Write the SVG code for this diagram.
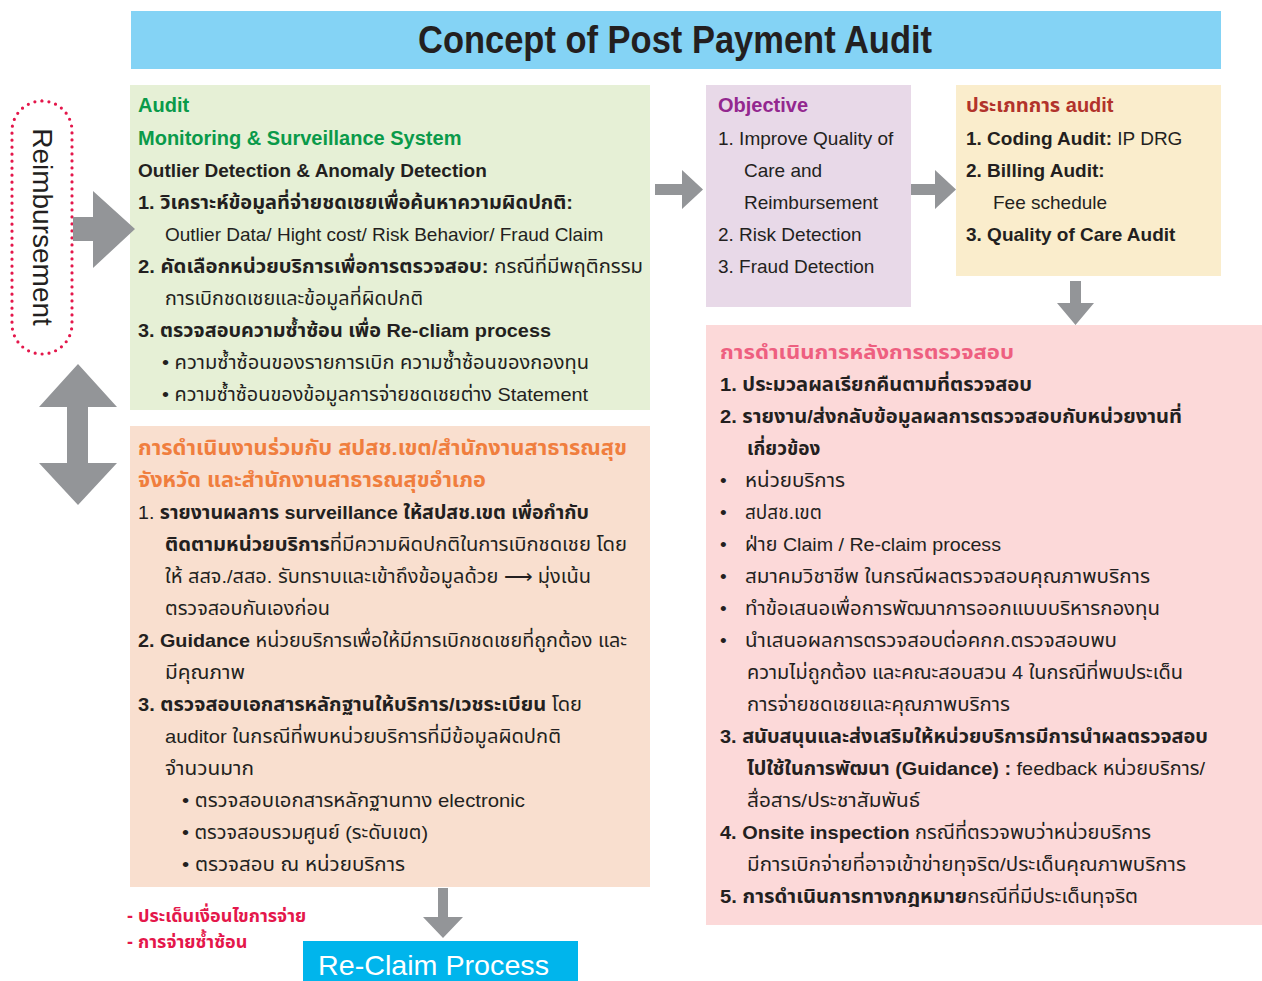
<svg xmlns="http://www.w3.org/2000/svg" width="1262" height="981" viewBox="0 0 1262 981">
<style>
text{font-family:"Liberation Sans","Noto Sans Thai","Noto Sans",sans-serif;font-size:19px;fill:#231f20}
.b{font-weight:bold}
.h{font-size:20px;font-weight:bold}
.arrow{fill:#939598}
</style>
<rect width="1262" height="981" fill="#ffffff"/>
<g id="title">
<rect x="131" y="11" width="1090" height="58" fill="#84d3f5"/>
<text x="418" y="53" textLength="514" lengthAdjust="spacingAndGlyphs" style="font-size:38px;font-weight:bold">Concept of Post Payment Audit</text>
</g>
<g id="reimbursement">
<rect x="12" y="101" width="60" height="253" rx="30" ry="30" fill="none" stroke="#e4174b" stroke-width="3.2" stroke-linecap="round" stroke-dasharray="0 7"/>
<text transform="translate(33,227) rotate(90)" text-anchor="middle" style="font-size:28px">Reimbursement</text>
</g>
<g id="audit">
<rect x="130" y="85" width="520" height="325" fill="#e6f0d6"/>
<text x="138" y="112" class="h" style="fill:#0a9a4a">Audit</text>
<text x="138" y="145" class="h" style="fill:#0a9a4a">Monitoring &amp; Surveillance System</text>
<text x="138" y="177" class="b">Outlier Detection &amp; Anomaly Detection</text>
<text x="138" y="209" class="b" textLength="435" lengthAdjust="spacingAndGlyphs">1. วิเคราะห์ข้อมูลที่จ่ายชดเชยเพื่อค้นหาความผิดปกติ:</text>
<text x="165" y="241">Outlier Data/ Hight cost/ Risk Behavior/ Fraud Claim</text>
<text x="138" y="273" textLength="505" lengthAdjust="spacingAndGlyphs"><tspan class="b">2. คัดเลือกหน่วยบริการเพื่อการตรวจสอบ:</tspan> กรณีที่มีพฤติกรรม</text>
<text x="165" y="305" textLength="258" lengthAdjust="spacingAndGlyphs">การเบิกชดเชยและข้อมูลที่ผิดปกติ</text>
<text x="138" y="337" class="b" textLength="413" lengthAdjust="spacingAndGlyphs">3. ตรวจสอบความซ้ำซ้อน เพื่อ Re-cliam process</text>
<text x="162" y="369" textLength="427" lengthAdjust="spacingAndGlyphs">• ความซ้ำซ้อนของรายการเบิก ความซ้ำซ้อนของกองทุน</text>
<text x="162" y="401" textLength="426" lengthAdjust="spacingAndGlyphs">• ความซ้ำซ้อนของข้อมูลการจ่ายชดเชยต่าง Statement</text>
</g>
<g id="cooperation">
<rect x="130" y="426" width="520" height="461" fill="#f9dfcf"/>
<text x="138" y="455" class="b" textLength="489" lengthAdjust="spacingAndGlyphs" style="font-size:21px;fill:#f07e3e">การดำเนินงานร่วมกับ สปสช.เขต/สำนักงานสาธารณสุข</text>
<text x="138" y="487" class="b" textLength="348" lengthAdjust="spacingAndGlyphs" style="font-size:21px;fill:#f07e3e">จังหวัด และสำนักงานสาธารณสุขอำเภอ</text>
<text x="138" y="519" textLength="451" lengthAdjust="spacingAndGlyphs">1. <tspan class="b">รายงานผลการ surveillance ให้สปสช.เขต เพื่อกำกับ</tspan></text>
<text x="165" y="551" textLength="462" lengthAdjust="spacingAndGlyphs"><tspan class="b">ติดตามหน่วยบริการ</tspan>ที่มีความผิดปกติในการเบิกชดเชย โดย</text>
<text x="165" y="583" textLength="426" lengthAdjust="spacingAndGlyphs">ให้ สสจ./สสอ. รับทราบและเข้าถึงข้อมูลด้วย ⟶ มุ่งเน้น</text>
<text x="165" y="615" textLength="165" lengthAdjust="spacingAndGlyphs">ตรวจสอบกันเองก่อน</text>
<text x="138" y="647" textLength="489" lengthAdjust="spacingAndGlyphs"><tspan class="b">2. Guidance</tspan> หน่วยบริการเพื่อให้มีการเบิกชดเชยที่ถูกต้อง และ</text>
<text x="165" y="679" textLength="80" lengthAdjust="spacingAndGlyphs">มีคุณภาพ</text>
<text x="138" y="711" textLength="444" lengthAdjust="spacingAndGlyphs"><tspan class="b">3. ตรวจสอบเอกสารหลักฐานให้บริการ/เวชระเบียน</tspan> โดย</text>
<text x="165" y="743" textLength="396" lengthAdjust="spacingAndGlyphs">auditor ในกรณีที่พบหน่วยบริการที่มีข้อมูลผิดปกติ</text>
<text x="165" y="775" textLength="89" lengthAdjust="spacingAndGlyphs">จำนวนมาก</text>
<text x="182" y="807" textLength="343" lengthAdjust="spacingAndGlyphs">• ตรวจสอบเอกสารหลักฐานทาง electronic</text>
<text x="182" y="839" textLength="246" lengthAdjust="spacingAndGlyphs">• ตรวจสอบรวมศูนย์ (ระดับเขต)</text>
<text x="182" y="871" textLength="223" lengthAdjust="spacingAndGlyphs">• ตรวจสอบ ณ หน่วยบริการ</text>
</g>
<g id="objective">
<rect x="706" y="85" width="205" height="222" fill="#e8d9e8"/>
<text x="718" y="112" class="h" style="fill:#93278f">Objective</text>
<text x="718" y="145">1. Improve Quality of</text>
<text x="744" y="177">Care and</text>
<text x="744" y="209">Reimbursement</text>
<text x="718" y="241">2. Risk Detection</text>
<text x="718" y="273">3. Fraud Detection</text>
</g>
<g id="audit-types">
<rect x="956" y="85" width="265" height="191" fill="#faedcc"/>
<text x="966" y="112" class="h" style="fill:#b2332b">ประเภทการ audit</text>
<text x="966" y="145"><tspan class="b">1. Coding Audit:</tspan> IP DRG</text>
<text x="966" y="177" class="b">2. Billing Audit:</text>
<text x="993" y="209">Fee schedule</text>
<text x="966" y="241" class="b">3. Quality of Care Audit</text>
</g>
<g id="post-audit">
<rect x="706" y="325" width="556" height="600" fill="#fcd9d9"/>
<text x="720" y="359" class="b" textLength="294" lengthAdjust="spacingAndGlyphs" style="font-size:20px;fill:#ee5f80">การดำเนินการหลังการตรวจสอบ</text>
<text x="720" y="391" class="b" textLength="312" lengthAdjust="spacingAndGlyphs">1. ประมวลผลเรียกคืนตามที่ตรวจสอบ</text>
<text x="720" y="423" class="b" textLength="462" lengthAdjust="spacingAndGlyphs">2. รายงาน/ส่งกลับข้อมูลผลการตรวจสอบกับหน่วยงานที่</text>
<text x="747" y="455" class="b">เกี่ยวข้อง</text>
<text x="720" y="487">•</text><text x="745" y="487" textLength="100" lengthAdjust="spacingAndGlyphs">หน่วยบริการ</text>
<text x="720" y="519">•</text><text x="745" y="519">สปสช.เขต</text>
<text x="720" y="551">•</text><text x="745" y="551" textLength="256" lengthAdjust="spacingAndGlyphs">ฝ่าย Claim / Re-claim process</text>
<text x="720" y="583">•</text><text x="745" y="583" textLength="405" lengthAdjust="spacingAndGlyphs">สมาคมวิชาชีพ ในกรณีผลตรวจสอบคุณภาพบริการ</text>
<text x="720" y="615">•</text><text x="745" y="615" textLength="415" lengthAdjust="spacingAndGlyphs">ทำข้อเสนอเพื่อการพัฒนาการออกแบบบริหารกองทุน</text>
<text x="720" y="647">•</text><text x="745" y="647" textLength="372" lengthAdjust="spacingAndGlyphs">นำเสนอผลการตรวจสอบต่อคกก.ตรวจสอบพบ</text>
<text x="747" y="679" textLength="436" lengthAdjust="spacingAndGlyphs">ความไม่ถูกต้อง และคณะสอบสวน 4 ในกรณีที่พบประเด็น</text>
<text x="747" y="711" textLength="263" lengthAdjust="spacingAndGlyphs">การจ่ายชดเชยและคุณภาพบริการ</text>
<text x="720" y="743" class="b" textLength="488" lengthAdjust="spacingAndGlyphs">3. สนับสนุนและส่งเสริมให้หน่วยบริการมีการนำผลตรวจสอบ</text>
<text x="747" y="775" textLength="458" lengthAdjust="spacingAndGlyphs"><tspan class="b">ไปใช้ในการพัฒนา (Guidance) :</tspan> feedback หน่วยบริการ/</text>
<text x="747" y="807" textLength="173" lengthAdjust="spacingAndGlyphs">สื่อสาร/ประชาสัมพันธ์</text>
<text x="720" y="839" textLength="431" lengthAdjust="spacingAndGlyphs"><tspan class="b">4. Onsite inspection</tspan> กรณีที่ตรวจพบว่าหน่วยบริการ</text>
<text x="747" y="871" textLength="439" lengthAdjust="spacingAndGlyphs">มีการเบิกจ่ายที่อาจเข้าข่ายทุจริต/ประเด็นคุณภาพบริการ</text>
<text x="720" y="903" textLength="418" lengthAdjust="spacingAndGlyphs"><tspan class="b">5. การดำเนินการทางกฎหมาย</tspan>กรณีที่มีประเด็นทุจริต</text>
</g>
<g id="notes">
<text x="127" y="922" class="b" style="fill:#e4174b;font-size:18px">- ประเด็นเงื่อนไขการจ่าย</text>
<text x="127" y="948" class="b" style="fill:#e4174b;font-size:18px">- การจ่ายซ้ำซ้อน</text>
</g>
<g id="reclaim">
<rect x="303" y="941" width="275" height="40" fill="#00b5ec"/>
<text x="318" y="975" textLength="231" lengthAdjust="spacingAndGlyphs" style="font-size:28px;fill:#ffffff">Re-Claim Process</text>
</g>
<g id="connectors">
<polygon class="arrow" points="73,217 93,217 93,191 135,229 93,268 93,241 73,241"/>
<polygon class="arrow" points="78,364 117,407 88,407 88,463 117,463 78,505 39,463 67,463 67,407 39,407"/>
<polygon class="arrow" points="655,184 682,184 682,170 703,189.5 682,209 682,195 655,195"/>
<polygon class="arrow" points="911,184 935,184 935,170 956,189.5 935,209 935,195 911,195"/>
<polygon class="arrow" points="1070,281 1081,281 1081,303 1094,303 1075.5,325 1057,303 1070,303"/>
<polygon class="arrow" points="438,888 448,888 448,917 463,917 443,938 423,917 438,917"/>
</g>
</svg>
